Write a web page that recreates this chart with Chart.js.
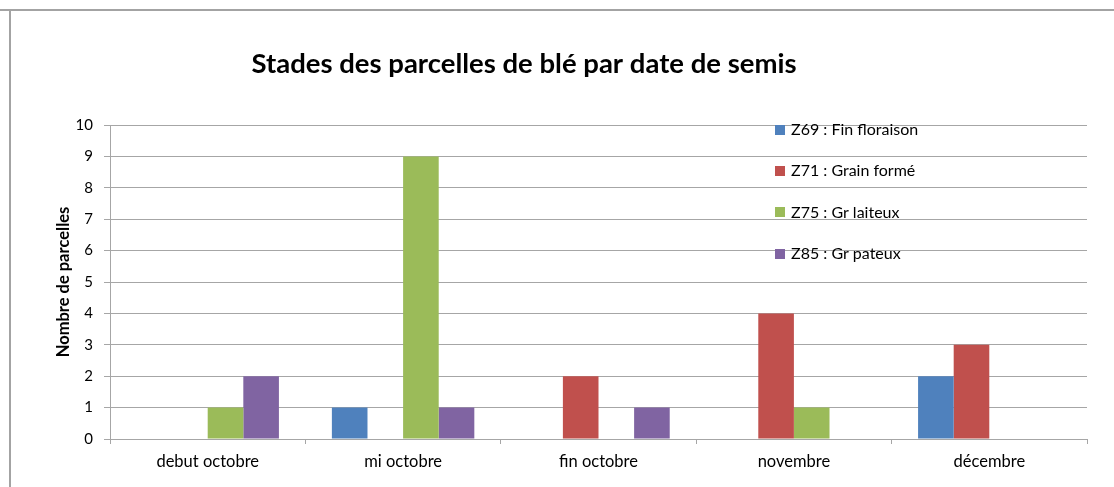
<!DOCTYPE html>
<html>
<head>
<meta charset="utf-8">
<script src="https://cdn.jsdelivr.net/npm/chart.js"></script>
<style>
  html, body { margin: 0; padding: 0; background: #fff; }
  #wrap { position: relative; width: 1114px; height: 487px; overflow: hidden; }
  #c { position: absolute; left: 0; top: 0; }
  .hline { position: absolute; left: 0; top: 9px; width: 1114px; height: 2px; background: #a3a3a3; }
  .vline { position: absolute; left: 9px; top: 10px; width: 2px; height: 477px; background: #a3a3a3; }
</style>
</head>
<body>
<div id="wrap">
  <canvas id="c" width="1114" height="487"></canvas>
  <div class="hline"></div>
  <div class="vline"></div>
</div>
<script>
const chartTitle = 'Stades des parcelles de blé par date de semis';
const yAxisTitle = 'Nombre de parcelles';
const categories = ['debut octobre', 'mi octobre', 'fin octobre', 'novembre', 'décembre'];
const seriesLabels = ['Z69 : Fin floraison', 'Z71 : Grain formé', 'Z75 : Gr laiteux', 'Z85 : Gr pateux'];
const seriesColors = ['#4F81BD', '#C0504D', '#9BBB59', '#8064A2'];
const z69 = [0, 1, 0, 0, 2];
const z71 = [0, 0, 2, 4, 3];
const z75 = [1, 9, 0, 1, 0];
const z85 = [2, 1, 1, 0, 0];
const yMin = 0, yMax = 10, yStep = 1;

const seriesValues = [z69, z71, z75, z85];
const FONT = 'Lato, "Open Sans", sans-serif';
const gridColor = '#a6a6a6';

const overlayPlugin = {
  id: 'overlay',
  afterDraw(chart) {
    const ctx = chart.ctx;
    ctx.save();
    // title
    ctx.fillStyle = '#000';
    ctx.font = 'bold 27.5px ' + FONT;
    ctx.textAlign = 'center';
    ctx.textBaseline = 'alphabetic';
    ctx.fillText(chartTitle, 524, 73);
    // legend
    ctx.font = '16px ' + FONT;
    ctx.textAlign = 'left';
    ctx.textBaseline = 'middle';
    chart.data.datasets.forEach((ds, i) => {
      const y = 130 + i * 41.2;
      ctx.fillStyle = ds.backgroundColor;
      ctx.fillRect(775, Math.round(y - 5), 10, 10);
      ctx.fillStyle = '#000';
      ctx.fillText(ds.label, 791, y);
    });
    ctx.restore();
  }
};

new Chart(document.getElementById('c'), {
  type: 'bar',
  data: {
    labels: categories,
    datasets: seriesLabels.map((l, i) => ({
      label: l,
      data: seriesValues[i],
      backgroundColor: seriesColors[i],
      borderWidth: 0,
      categoryPercentage: 0.729,
      barPercentage: 1.0
    }))
  },
  options: {
    responsive: false,
    animation: false,
    devicePixelRatio: 1,
    layout: { padding: { left: 10, right: 27, top: 125, bottom: 0 } },
    plugins: {
      legend: { display: false },
      title: { display: false },
      tooltip: { enabled: false }
    },
    scales: {
      x: {
        offset: true,
        grid: { drawOnChartArea: false, drawTicks: true, tickLength: 5, color: gridColor, offset: true },
        border: { color: gridColor },
        ticks: { color: '#000', font: { family: FONT, size: 16.5 }, padding: 8, maxRotation: 0, autoSkip: false },
        afterFit(s) { s.height = 48; }
      },
      y: {
        min: yMin, max: yMax,
        ticks: { stepSize: yStep, color: '#000', font: { family: FONT, size: 15 }, padding: 11 },
        grid: { color: gridColor, tickLength: 6 },
        border: { color: gridColor },
        title: { display: true, text: yAxisTitle, color: '#000', font: { family: FONT, size: 16.5, weight: 'bold' }, padding: { top: 44, bottom: 0 } },
        afterFit(s) { s.width = 100; }
      }
    }
  },
  plugins: [overlayPlugin]
});
</script>
</body>
</html>
